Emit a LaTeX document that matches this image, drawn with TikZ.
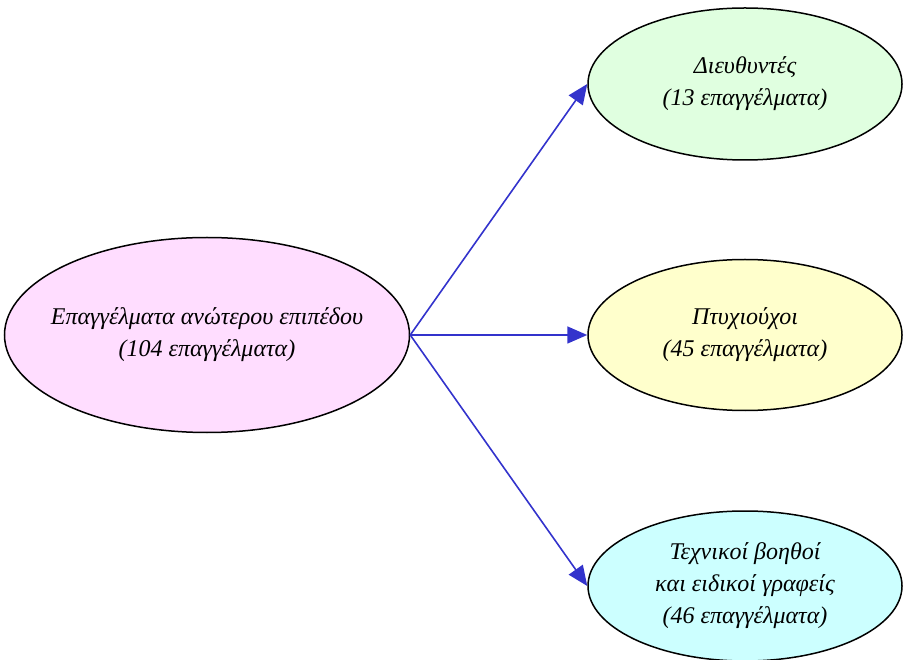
\documentclass[tikz,border=0pt]{standalone}
\usepackage{fontspec}
\setmainfont{Liberation Serif}
\usetikzlibrary{shapes.geometric,arrows.meta}
\definecolor{pinkfill}{HTML}{FFDDFF}
\definecolor{greenfill}{HTML}{E0FFE0}
\definecolor{yellowfill}{HTML}{FFFFCC}
\definecolor{cyanfill}{HTML}{CCFFFF}
\definecolor{linkblue}{HTML}{3333CC}
\begin{document}
\begin{tikzpicture}[x=1pt,y=1pt]
			\tikzset{group/.style={ellipse,draw=black,line width=1.5pt,inner xsep=-40pt,inner ysep=-20pt,align=center,font=\fontsize{24}{32}\selectfont\itshape}}
			\tikzset{link/.style={draw=linkblue,line width=1.6pt,-{Triangle[length=20pt,width=17pt]}}}
			\useasboundingbox (0,0) rectangle (904,659);
			\node[group,fill=pinkfill,minimum width=405pt,minimum height=195pt] (upper) at (207,324) {Επαγγέλματα ανώτερου επιπέδου\\(104 επαγγέλματα)};
			\node[group,fill=greenfill,minimum width=314pt,minimum height=152pt] (managers) at (745,575) {Διευθυντές\\(13 επαγγέλματα)};
			\node[group,fill=yellowfill,minimum width=314pt,minimum height=151pt] (graduates) at (745,324) {Πτυχιούχοι\\(45 επαγγέλματα)};
			\node[group,fill=cyanfill,minimum width=314pt,minimum height=150pt] (assistants) at (745,73) {Τεχνικοί βοηθοί\\και ειδικοί γραφείς\\(46 επαγγέλματα)};
			\draw[link] (upper.east) -- (managers.west);
			\draw[link] (upper.east) -- (graduates.west);
			\draw[link] (upper.east) -- (assistants.west);
		\end{tikzpicture}
\end{document}
